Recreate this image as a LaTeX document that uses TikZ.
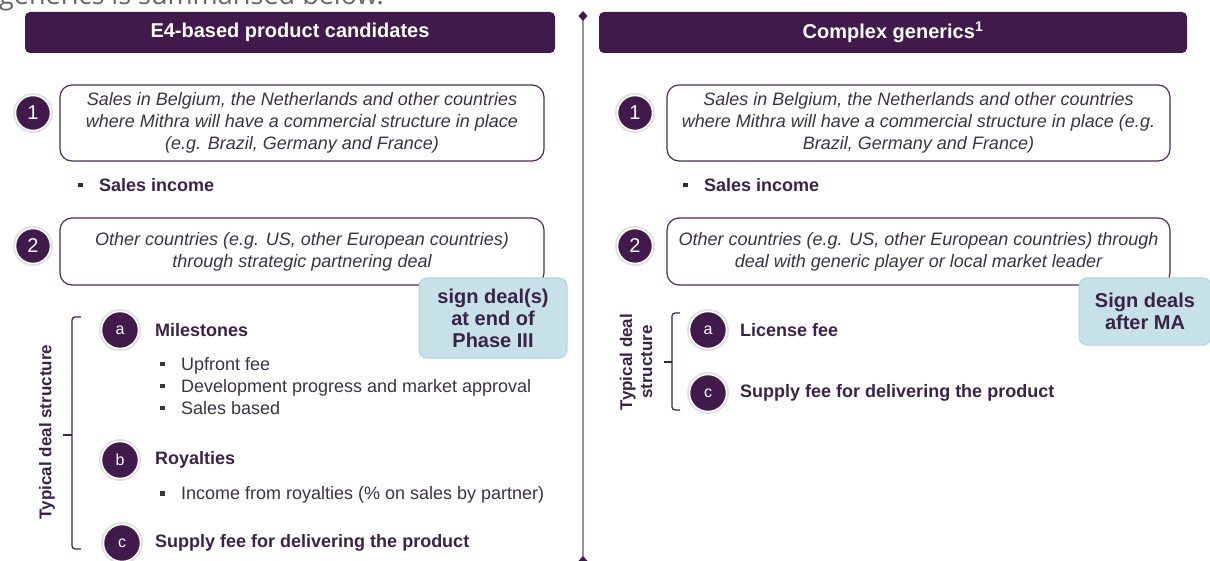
\documentclass[tikz,border=0pt]{standalone}
\usepackage{fontspec}
\setmainfont{Liberation Sans}
\newfontfamily\opensans{Open Sans}
\usetikzlibrary{arrows.meta,positioning,calc}

\definecolor{plum}{HTML}{3F1A4B}
\definecolor{plumtext}{HTML}{3B2347}
\definecolor{bodytext}{HTML}{3A3340}
\definecolor{boxline}{HTML}{4B2C57}
\definecolor{dealfill}{HTML}{C6E1E7}
\definecolor{dealline}{HTML}{B3D3DA}
\definecolor{divider}{HTML}{9C8EA5}
\newcommand{\sqbullet}{\rule[0.22em]{0.26em}{0.26em}\hspace{0.9em}}

\begin{document}
\begin{tikzpicture}[x=1pt, y=-1pt,
                    header/.style = {rectangle, rounded corners=5pt, fill=plum, text=white, minimum height=41pt,
                            font=\bfseries\fontsize{20}{22}\selectfont},
                    case box/.style = {rectangle, rounded corners=12pt, draw=boxline, line width=1.2pt, align=center,
                            text=bodytext, font=\itshape\fontsize{18}{22}\selectfont},
                    disc/.style = {circle, fill=plum, draw=white, line width=1.5pt, preaction={draw=black!12, line width=5pt},
                            minimum size=35pt, inner sep=0pt, text=white},
                    case disc/.style = {disc, font=\fontsize{20}{20}\selectfont},
                    item disc/.style = {disc, minimum size=37pt, font=\fontsize{16}{16}\selectfont},
                    itemtext/.style = {anchor=west, inner sep=0pt, text=plumtext, font=\bfseries\fontsize{18}{22}\selectfont},
                    subpoint/.style = {anchor=west, inner sep=0pt, align=left, text=bodytext, font=\fontsize{18}{22}\selectfont},
                    deal/.style = {rectangle, rounded corners=8pt, fill=dealfill, draw=dealline, line width=1pt, align=center,
                            text=plumtext, font=\bfseries\fontsize{20}{22}\selectfont},
                    bracket line/.style = {draw=plumtext, line width=1.2pt, rounded corners=3pt},
                    structure/.style = {rotate=90, align=center, text=plumtext, font=\bfseries\fontsize{17}{20}\selectfont} ]

                \useasboundingbox (0,0) rectangle (1210,561);
                \clip (0,0) rectangle (1210,561);

                % cut-off line of the page above
                \node [anchor=base west, inner sep=0pt, text=black!60, font=\opensans\fontsize{27}{27}\selectfont] (intro) at (-1,5) {generics is summarised below.};

                % divider
                \coordinate (divtop) at (583,11);
                \coordinate (divbot) at (583,566);
                \draw [draw=divider, line width=1.3pt, {Diamond[length=10pt,width=9pt,color=plum]}-{Diamond[length=10pt,width=9pt,color=plum]}] (divtop) -- (divbot);

                % left column
                \node [header, minimum width=530pt] (headE4) at (290,32.5) {E4-based product candidates};
                \node [case box, minimum width=484pt, minimum height=76pt] (salesE4) at (302,123) {Sales in Belgium, the Netherlands and other countries\\where Mithra will have a commercial structure in place\\(e.g. Brazil, Germany and France)};
                \node [case disc] (oneE4) at (33,113) {1};
                \node [itemtext] (incomeE4) at (78,185) {\sqbullet Sales income};
                \node [case box, minimum width=484pt, minimum height=67pt] (otherE4) at (302,251.5) {Other countries (e.g. US, other European countries)\\through strategic partnering deal};
                \node [case disc] (twoE4) at (33,246) {2};
                \node [deal, minimum width=148pt, minimum height=80pt] (signE4) at (493,318) {sign deal(s)\\at end of\\Phase III};

                \node [item disc] (aE4) at (120,330) {a};
                \node [itemtext] (milestones) at (155,330) {Milestones};
                \node [subpoint] (milestonepoints) at (160,386) {\sqbullet Upfront fee\\\sqbullet Development progress and market approval\\\sqbullet Sales based};
                \node [item disc] (bE4) at (120,460) {b};
                \node [itemtext] (royalties) at (155,460) {Royalties};
                \node [subpoint] (royaltypoints) at (160,495) {\sqbullet Income from royalties (\% on sales by partner)};
                \node [item disc] (cE4) at (122,543) {c};
                \node [itemtext] (supplyE4) at (155,543) {Supply fee for delivering the product};

                \draw [bracket line] (81,317) -| (72,549) -- (81,549);
                \draw [bracket line] (72,435) -- (63,435);
                \node [structure] (dealE4) at (47,432) {Typical deal structure};

                % right column
                \node [header, minimum width=588pt] (headCG) at (893,32.5) {Complex generics\textsuperscript{1}};
                \node [case box, minimum width=503pt, minimum height=76pt] (salesCG) at (918.5,123) {Sales in Belgium, the Netherlands and other countries\\where Mithra will have a commercial structure in place (e.g.\\Brazil, Germany and France)};
                \node [case disc] (oneCG) at (635,113) {1};
                \node [itemtext] (incomeCG) at (683,185) {\sqbullet Sales income};
                \node [case box, minimum width=503pt, minimum height=67pt] (otherCG) at (918.5,251.5) {Other countries (e.g. US, other European countries) through\\deal with generic player or local market leader};
                \node [case disc] (twoCG) at (635,246) {2};
                \node [deal, minimum width=132pt, minimum height=67pt] (signCG) at (1145,311.5) {Sign deals\\after MA};

                \node [item disc] (aCG) at (708,330) {a};
                \node [itemtext] (license) at (740,330) {License fee};
                \node [item disc] (cCG) at (708,393) {c};
                \node [itemtext] (supplyCG) at (740,393) {Supply fee for delivering the product};

                \draw [bracket line] (680,313) -| (672,410) -- (680,410);
                \draw [bracket line] (672,362) -- (664,362);
                \node [structure] (dealCG) at (636,362) {Typical deal\\structure};
\end{tikzpicture}
\end{document}
